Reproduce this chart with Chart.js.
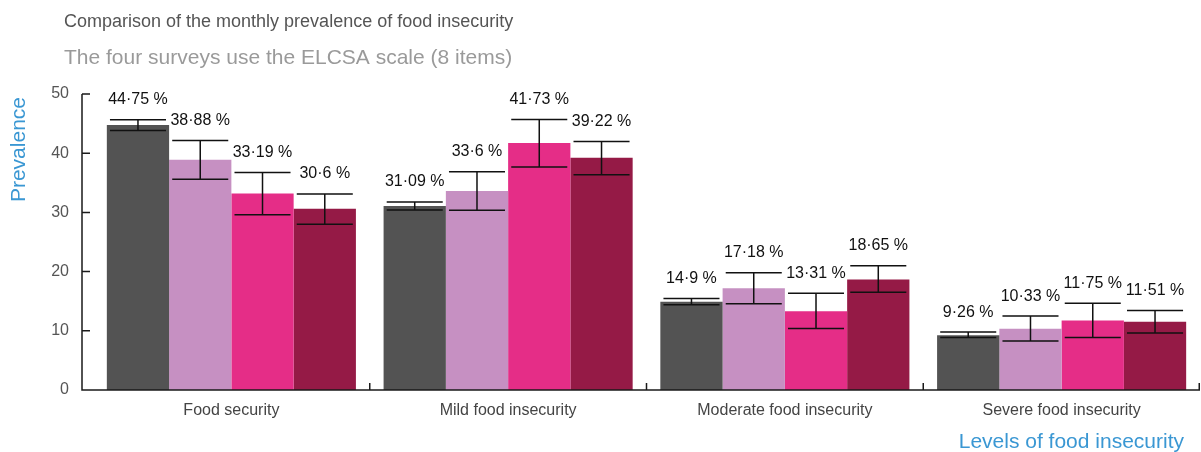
<!DOCTYPE html>
<html>
<head>
<meta charset="utf-8">
<script src="https://cdn.jsdelivr.net/npm/chart.js@4/dist/chart.umd.min.js"></script>
<style>
  html, body { margin: 0; padding: 0; background: #ffffff; }
  #wrap { width: 1201px; height: 452px; position: relative; }
</style>
</head>
<body>
<div id="wrap"><canvas id="c" width="1201" height="452"></canvas></div>
<script>
const chartTitle = "Comparison of the monthly prevalence of food insecurity";
const chartSubtitle = "The four surveys use the ELCSA scale (8 items)";
const yAxisTitle = "Prevalence";
const xAxisTitle = "Levels of food insecurity";

const categories = ["Food security", "Mild food insecurity", "Moderate food insecurity", "Severe food insecurity"];
const seriesNames = ["Survey 1", "Survey 2", "Survey 3", "Survey 4"];

const survey1 = [44.75, 31.09, 14.9, 9.26];
const survey2 = [38.88, 33.6, 17.18, 10.33];
const survey3 = [33.19, 41.73, 13.31, 11.75];
const survey4 = [30.6, 39.22, 18.65, 11.51];

const survey1Low = [43.84, 30.40, 14.39, 8.88];
const survey1High = [45.65, 31.76, 15.46, 9.78];
const survey2Low = [35.58, 30.35, 14.56, 8.26];
const survey2High = [42.16, 36.88, 19.79, 12.48];
const survey3Low = [29.62, 37.66, 10.40, 8.88];
const survey3High = [36.76, 45.70, 16.36, 14.67];
const survey4Low = [27.99, 36.37, 16.53, 9.61];
const survey4High = [33.10, 41.99, 20.97, 13.44];

const yTicks = [0, 10, 20, 30, 40, 50];

const seriesValues = [survey1, survey2, survey3, survey4];
const seriesLow = [survey1Low, survey2Low, survey3Low, survey4Low];
const seriesHigh = [survey1High, survey2High, survey3High, survey4High];
const seriesColors = ["#535353", "#c690c2", "#e52d87", "#951a46"];

const FONT = "'Liberation Sans', Arial, Helvetica, sans-serif";
const AXIS_COLOR = "#1a1a1a";
const BLUE = "#3a97d3";

const decorPlugin = {
  id: 'decor',
  afterDatasetsDraw(chart) {
    const ctx = chart.ctx;
    const y = chart.scales.y;
    const area = chart.chartArea;
    ctx.save();
    // error bars
    ctx.strokeStyle = "#111";
    ctx.lineWidth = 1.5;
    chart.data.datasets.forEach((ds, di) => {
      const meta = chart.getDatasetMeta(di);
      meta.data.forEach((el, i) => {
        const lo = y.getPixelForValue(seriesLow[di][i]);
        const hi = y.getPixelForValue(seriesHigh[di][i]);
        const half = el.width * 0.45;
        ctx.beginPath();
        ctx.moveTo(el.x, lo); ctx.lineTo(el.x, hi);
        ctx.moveTo(el.x - half, lo); ctx.lineTo(el.x + half, lo);
        ctx.moveTo(el.x - half, hi); ctx.lineTo(el.x + half, hi);
        ctx.stroke();
        // value label
        ctx.fillStyle = "#111";
        ctx.font = "16px " + FONT;
        ctx.textAlign = "center";
        ctx.textBaseline = "middle";
        const txt = String(seriesValues[di][i]).replace('.', '\u00B7') + " %";
        ctx.fillText(txt, el.x, hi - 20);
      });
    });
    // axes
    ctx.strokeStyle = AXIS_COLOR;
    ctx.lineWidth = 1.5;
    const axX = area.left - 11;
    ctx.beginPath();
    ctx.moveTo(axX, y.getPixelForValue(50));
    ctx.lineTo(axX, area.bottom);
    ctx.lineTo(area.right, area.bottom);
    yTicks.forEach(t => {
      if (t === 0) return;
      const py = y.getPixelForValue(t);
      ctx.moveTo(axX, py); ctx.lineTo(axX + 8, py);
    });
    const n = categories.length;
    const gw = (area.right - area.left) / n;
    for (let i = 1; i <= n; i++) {
      const px = Math.min(area.left + i * gw, area.right - 0.75);
      ctx.moveTo(px, area.bottom); ctx.lineTo(px, area.bottom - 7);
    }
    ctx.stroke();
    // titles
    ctx.textAlign = "left";
    ctx.textBaseline = "alphabetic";
    ctx.font = "18px " + FONT;
    ctx.fillStyle = "#555555";
    ctx.fillText(chartTitle, 64, 27);
    ctx.font = "21px " + FONT;
    ctx.fillStyle = "#9a9a9a";
    ctx.fillText(chartSubtitle, 64, 64);
    // x axis title
    ctx.font = "21px " + FONT;
    ctx.fillStyle = BLUE;
    ctx.textAlign = "right";
    ctx.fillText(xAxisTitle, 1184, 448);
    // y axis title
    ctx.translate(19, 97);
    ctx.rotate(-Math.PI / 2);
    ctx.font = "21px " + FONT;
    ctx.textAlign = "right";
    ctx.textBaseline = "middle";
    ctx.fillText(yAxisTitle, 0, 0);
    ctx.restore();
  }
};

new Chart(document.getElementById('c'), {
  type: 'bar',
  data: {
    labels: categories,
    datasets: seriesValues.map((vals, i) => ({
      label: seriesNames[i],
      data: vals,
      backgroundColor: seriesColors[i],
      borderWidth: 0,
      categoryPercentage: 0.9,
      barPercentage: 1.0
    }))
  },
  options: {
    responsive: false,
    animation: false,
    layout: { padding: { top: 94, left: 0, right: 1, bottom: 0 } },
    plugins: {
      legend: { display: false },
      title: { display: false },
      tooltip: { enabled: false }
    },
    scales: {
      x: {
        grid: { display: false, drawTicks: false },
        border: { display: false },
        ticks: { color: "#444", font: { size: 16, family: FONT }, padding: 11, maxRotation: 0 },
        afterFit(scale) { scale.height = 62; }
      },
      y: {
        min: 0, max: 50,
        grid: { display: false, drawTicks: false },
        border: { display: false },
        ticks: { stepSize: 10, color: "#555", font: { size: 16, family: FONT }, padding: 24 },
        afterFit(scale) { scale.width = 93; }
      }
    }
  },
  plugins: [decorPlugin]
});
</script>
</body>
</html>
